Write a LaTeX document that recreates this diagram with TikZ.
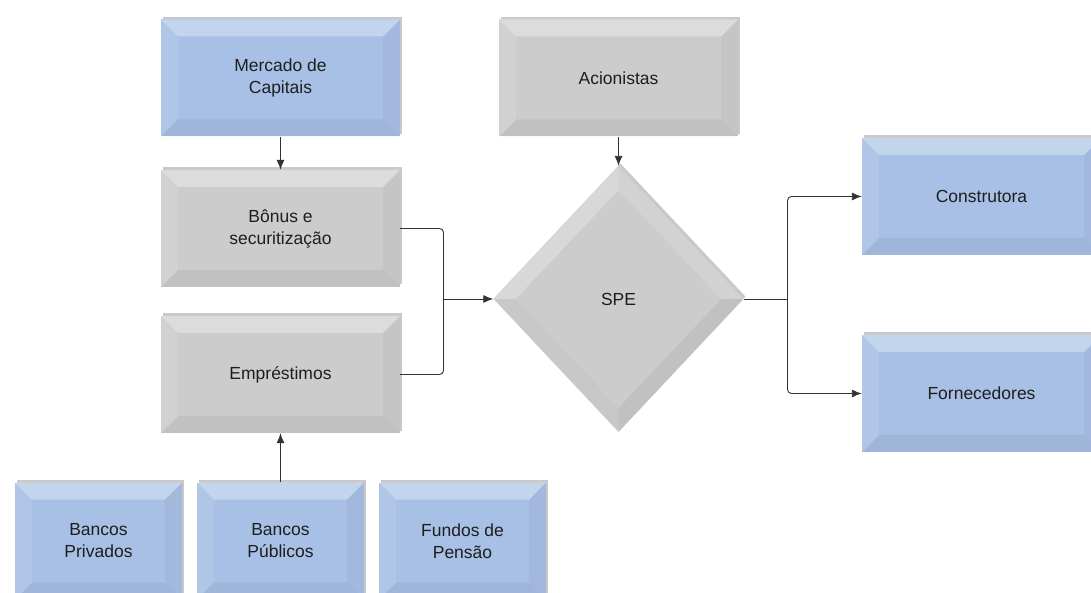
\documentclass[tikz,border=0pt]{standalone}
\usepackage{fontspec}
\setmainfont{Liberation Sans}
\usetikzlibrary{shapes.geometric,shadows,arrows.meta}

\definecolor{boxblue}{RGB}{168,192,229}
\definecolor{boxgrey}{RGB}{205,204,204}
\definecolor{txt}{RGB}{30,30,30}

\newcommand\bb{path picture bounding box}

\tikzset{
  bevel/.style={path picture={
      \fill[white,opacity=.32] (\bb.north west) -- (\bb.north east) -- ([shift={(-17pt,-17pt)}]\bb.north east) -- ([shift={(17pt,-17pt)}]\bb.north west) -- cycle;
      \fill[white,opacity=.1] (\bb.north west) -- ([shift={(17pt,-17pt)}]\bb.north west) -- ([shift={(17pt,17pt)}]\bb.south west) -- (\bb.south west) -- cycle;
      \fill[black,opacity=.03] (\bb.north east) -- ([shift={(-17pt,-17pt)}]\bb.north east) -- ([shift={(-17pt,17pt)}]\bb.south east) -- (\bb.south east) -- cycle;
      \fill[black,opacity=.05] (\bb.south west) -- ([shift={(17pt,17pt)}]\bb.south west) -- ([shift={(-17pt,17pt)}]\bb.south east) -- (\bb.south east) -- cycle;
    }},
  dbevel/.style={path picture={
      \fill[white,opacity=.25] (\bb.west) -- (\bb.north) -- ([yshift=-24pt]\bb.north) -- ([xshift=22pt]\bb.west) -- cycle;
      \fill[white,opacity=.12] (\bb.north) -- (\bb.east) -- ([xshift=-22pt]\bb.east) -- ([yshift=-24pt]\bb.north) -- cycle;
      \fill[black,opacity=.02] (\bb.west) -- (\bb.south) -- ([yshift=24pt]\bb.south) -- ([xshift=22pt]\bb.west) -- cycle;
      \fill[black,opacity=.05] (\bb.south) -- (\bb.east) -- ([xshift=-22pt]\bb.east) -- ([yshift=24pt]\bb.south) -- cycle;
    }},
  shade/.style={drop shadow={shadow xshift=2pt,shadow yshift=2.5pt,opacity=.3,fill=black!70}},
  bluebox/.style={rectangle,fill=boxblue,minimum width=239pt,minimum height=117pt,bevel,shade},
  greybox/.style={rectangle,fill=boxgrey,minimum width=239pt,minimum height=117pt,bevel,shade},
  bankbox/.style={bluebox,minimum width=167pt},
  spe/.style={diamond,fill=boxgrey,inner sep=0pt,minimum width=250pt,minimum height=266pt,dbevel,shade},
  link/.style={draw=black!80,line width=0.9pt}
}

\begin{document}
\begin{tikzpicture}[x=1pt,y=1pt,>={Latex[length=10pt,width=8pt]},
    every node/.style={font=\fontsize{17.5}{22}\selectfont,text=txt,align=center}]
  \clip (0,0) rectangle (1091,592);

  \node[bluebox] (mc) at (280.5,514) {Mercado de\\Capitais};
  \node[greybox,node distance=150.5pt,below of=mc] (bs) {Bônus e\\securitização};
  \node[greybox,node distance=146pt,below of=bs] (em) {Empréstimos};
  \node[greybox,node distance=338pt,right of=mc] (ac) {Acionistas};
  \node[spe,node distance=221pt,below of=ac] (spe) {SPE};
  \node[bluebox,node distance=363pt,right of=spe,yshift=102.5pt] (co) {Construtora};
  \node[bluebox,node distance=363pt,right of=spe,yshift=-94.5pt] (fo) {Fornecedores};
  \node[bankbox,node distance=166.5pt,below of=em] (pu) {Bancos\\Públicos};
  \node[bankbox,node distance=182pt,left of=pu] (pr) {Bancos\\Privados};
  \node[bankbox,node distance=182pt,right of=pu] (fu) {Fundos de\\Pensão};

  \coordinate[node distance=175pt,left of=spe] (j1);
  \coordinate[node distance=169pt,right of=spe] (j2);

  \draw[link,->] (mc) -- (bs);
  \draw[link,->] (ac) -- (spe);
  \draw[link,->] (pu) -- (em);
  \draw[link,rounded corners=4pt] (bs.east) -| (j1) |- (em.east);
  \draw[link,->] (j1) -- (spe);
  \draw[link] (spe) -- (j2);
  \draw[link,->,rounded corners=4pt] (j2) |- (co.west);
  \draw[link,->,rounded corners=4pt] (j2) |- (fo.west);
\end{tikzpicture}
\end{document}
